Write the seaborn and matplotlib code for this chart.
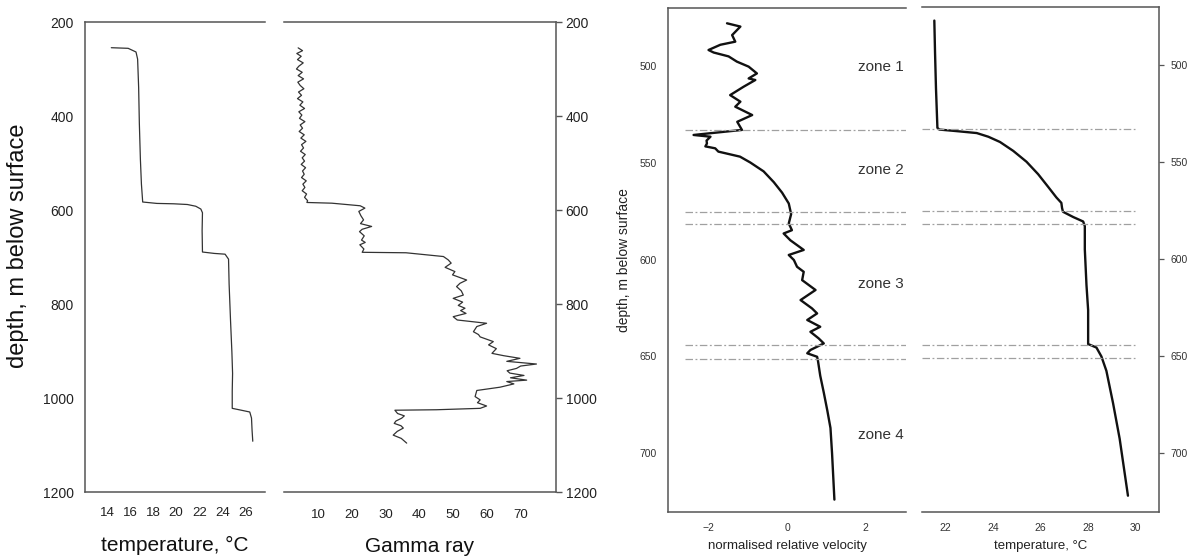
import matplotlib
matplotlib.use("Agg")
import matplotlib.pyplot as plt
import seaborn as sns
import pandas as pd

# ---------------- data ----------------
# Left figure: temperature log (degC) vs depth (m)
temp_depth = [254.7, 256, 263.8, 279, 339.8, 415.8, 491.8, 545, 583, 586, 586.8, 588.3,
              592, 598, 605.8, 643.8, 689.4, 692.4, 694, 704.6, 757.8, 795.7, 833.7, 902,
              947.7, 985.7, 1022, 1026, 1029.8, 1042.7, 1069, 1092]
temp_value = [14.38, 15.84, 16.52, 16.66, 16.75, 16.81, 16.90, 16.99, 17.10, 18.33, 19.79, 20.97,
              21.70, 22.14, 22.28, 22.25, 22.28, 23.31, 24.24, 24.54, 24.59, 24.65, 24.71, 24.83,
              24.89, 24.86, 24.86, 25.65, 26.38, 26.53, 26.58, 26.64]

# Left figure: gamma ray log vs depth (m)
gamma_depth = [255, 261, 267, 273, 280, 287, 294, 300, 307, 314, 321, 328, 335, 342, 349, 356,
               363, 370, 377, 384, 391, 398, 405, 412, 419, 426, 433, 440, 447, 454, 461, 468,
               475, 482, 489, 496, 503, 510, 517, 524, 531, 538, 545, 552, 559, 566, 573, 580,
               584, 585.5, 591, 596, 603, 612, 621, 629, 635, 641, 646, 655, 664, 669, 674, 683,
               690, 691, 699, 706, 713, 722, 731, 738, 745, 749, 756, 763, 772, 781, 788, 796,
               803, 809, 814, 820, 827, 834, 841, 848, 859, 865, 870, 880, 887, 895, 905, 910,
               915.6, 922, 927.7, 932, 937, 942, 947, 952, 957, 962, 965, 970, 977, 984, 997,
               1004, 1010, 1017, 1022, 1025, 1026, 1033, 1038, 1043, 1049, 1054, 1059, 1064,
               1071, 1079, 1086, 1096]
gamma_value = [4.0, 5.3, 3.6, 4.9, 3.8, 5.5, 4.2, 3.5, 5.2, 4.0, 5.6, 3.9, 4.6, 5.7, 4.1, 5.0,
               3.8, 5.4, 4.5, 5.9, 4.2, 5.1, 4.4, 6.0, 4.6, 5.3, 4.3, 5.8, 4.8, 6.3, 5.0, 5.6,
               4.7, 6.1, 5.2, 5.9, 4.9, 6.2, 5.3, 5.8, 5.0, 6.4, 5.4, 6.0, 5.2, 6.5, 5.9, 6.8,
               6.6, 14.0, 22.4, 23.8, 22.0, 22.6, 23.4, 22.5, 25.8, 23.0, 22.2, 23.6, 22.8, 23.9,
               22.3, 23.5, 23.0, 36.0, 47.1, 48.5, 49.4, 47.6, 50.5, 49.8, 52.5, 54.0, 52.0, 51.0,
               52.4, 53.0, 50.0, 52.8, 51.5, 53.5, 52.2, 53.8, 50.0, 51.2, 59.9, 57.0, 56.0, 57.5,
               58.0, 61.9, 60.5, 62.8, 61.5, 65.0, 69.8, 65.9, 74.7, 70.0, 68.8, 66.0, 66.8, 71.0,
               67.0, 71.8, 65.9, 68.0, 63.9, 57.0, 56.5, 58.0, 57.2, 59.9, 58.0, 45.0, 32.7, 33.5,
               35.5, 34.7, 33.0, 32.5, 34.5, 35.2, 33.4, 32.2, 34.6, 36.2]

# Right figure: normalised relative velocity vs depth (m)
vel_depth = [477.9, 479.6, 484, 487.4, 489, 491.7, 493, 495, 497.7, 500.3, 503.8, 506.4, 507.2,
             510.7, 515, 518.4, 521, 525.3, 528.8, 533, 535.6, 536.5, 538.5, 540, 541.5, 542.5,
             544.2, 546.8, 549.8, 554.4, 560, 565.4, 571, 576.5, 581.3, 584.8, 586.5, 590, 595,
             597.6, 600.2, 603.7, 606.3, 610.6, 615.7, 620.9, 625.2, 627.8, 631.2, 634.7, 637.3,
             640.7, 643.3, 646.7, 648.4, 650.2, 652, 660, 668.7, 678, 687, 700, 712, 724]
vel_value = [-1.53, -1.19, -1.40, -1.32, -1.70, -2.00, -1.87, -1.49, -1.28, -0.98, -0.77, -0.98,
             -0.81, -1.11, -1.45, -1.19, -1.32, -0.89, -1.27, -1.15, -2.38, -1.95, -2.05, -2.04,
             -2.08, -1.83, -1.75, -1.20, -0.94, -0.60, -0.34, -0.13, 0.04, 0.10, 0.04, 0.12,
             -0.09, 0.08, 0.42, 0.04, 0.17, 0.25, 0.42, 0.38, 0.72, 0.34, 0.63, 0.76, 0.51, 0.84,
             0.59, 0.80, 0.93, 0.59, 0.51, 0.76, 0.78, 0.84, 0.93, 1.02, 1.10, 1.14, 1.17, 1.20]

# Right figure: temperature vs depth (m)
t2_depth = [477, 493.5, 512, 532.3, 533.2, 534, 535, 536.9, 539.6, 544.2, 549.8, 556.2, 562.7,
            568.2, 571, 573.7, 575.6, 578.3, 580.6, 583, 595, 613.4, 626.3, 643.8, 645.6, 650.2,
            657.6, 674.2, 692.6, 722]
t2_value = [21.52, 21.55, 21.59, 21.65, 21.73, 22.46, 23.31, 23.80, 24.29, 24.85, 25.41, 25.90,
            26.32, 26.67, 26.88, 26.91, 26.95, 27.38, 27.80, 27.87, 27.87, 27.94, 28.01, 28.01,
            28.36, 28.57, 28.78, 29.06, 29.34, 29.69]

# Zone boundaries (m) and zone labels
boundary_depths = [532.8, 575.2, 581.7, 644.3, 651.2]
zone_labels = ["zone 1", "zone 2", "zone 3", "zone 4"]
zone_depths = [500.5, 553.5, 612.4, 690.8]

left_yticks = [200, 400, 600, 800, 1000, 1200]
temp_xticks = [14, 16, 18, 20, 22, 24, 26]
gamma_xticks = [10, 20, 30, 40, 50, 60, 70]
right_yticks = [500, 550, 600, 650, 700]
vel_xticks = [-2, 0, 2]
t2_xticks = [22, 24, 26, 28, 30]

# ---------------- style ----------------
sns.set_theme(style="white")
plt.rcParams["font.family"] = ["Liberation Sans", "DejaVu Sans"]

W, H = 1196, 558
fig = plt.figure(figsize=(W / 100, H / 100), dpi=100)


def add_ax(x0, x1, y0, y1):
    return fig.add_axes([x0 / W, 1 - y1 / H, (x1 - x0) / W, (y1 - y0) / H])


SP = "#555555"

ax1 = add_ax(85, 265, 22, 492)
ax2 = add_ax(284, 556, 22, 492)
ax3 = add_ax(668, 906, 8, 512)
ax4 = add_ax(922, 1159, 7, 512)

df_t = pd.DataFrame({"T": temp_value, "d": temp_depth})
df_g = pd.DataFrame({"G": gamma_value, "d": gamma_depth})
df_v = pd.DataFrame({"V": vel_value, "d": vel_depth})
df_t2 = pd.DataFrame({"T": t2_value, "d": t2_depth})

sns.lineplot(data=df_t, x="T", y="d", sort=False, estimator=None, ax=ax1, color="#333333", lw=0.9)
sns.lineplot(data=df_g, x="G", y="d", sort=False, estimator=None, ax=ax2, color="#333333", lw=0.9)
sns.lineplot(data=df_v, x="V", y="d", sort=False, estimator=None, ax=ax3, color="#111111", lw=1.7)
sns.lineplot(data=df_t2, x="T", y="d", sort=False, estimator=None, ax=ax4, color="#111111", lw=1.7)

# limits
ax1.set_xlim(12.1, 27.7)
ax2.set_xlim(-0.2, 80.5)
for a in (ax1, ax2):
    a.set_ylim(1200, 200)
ax3.set_xlim(-3.03, 3.02)
ax4.set_xlim(21.0, 31.0)
for a in (ax3, ax4):
    a.set_ylim(730.4, 470)

# spines
for a, hide in ((ax1, "right"), (ax2, "left"), (ax3, "right"), (ax4, "left")):
    for s in a.spines.values():
        s.set_color(SP)
        s.set_linewidth(1.1)
    a.spines[hide].set_visible(False)

# ticks
ax1.set_xticks(temp_xticks)
ax1.set_yticks(left_yticks)
ax2.set_xticks(gamma_xticks)
ax2.set_yticks(left_yticks)
ax2.yaxis.tick_right()
ax1.tick_params(axis="both", direction="out", length=5, width=1, color=SP, labelcolor="#222222")
ax1.tick_params(axis="x", labelsize=9.5, pad=6)
ax1.tick_params(axis="y", labelsize=10, pad=3)
ax2.tick_params(axis="both", direction="out", length=4, width=1, color=SP, labelcolor="#222222")
ax2.tick_params(axis="x", labelsize=9.5, pad=8)
ax2.tick_params(axis="y", labelsize=10, pad=3, left=False, right=True)

ax3.set_xticks(vel_xticks)
ax3.set_yticks(right_yticks)
ax4.set_xticks(t2_xticks)
ax4.set_yticks(right_yticks)
ax4.yaxis.tick_right()
for a in (ax3, ax4):
    a.tick_params(axis="both", direction="out", length=3.5, width=0.9, color=SP,
                  labelcolor="#333333", labelsize=7.5, pad=4.5)
ax4.tick_params(axis="y", left=False, right=True)

for a in (ax1, ax2, ax3, ax4):
    a.set_xlabel("")
    a.set_ylabel("")
    a.grid(False)

ax1.set_xlabel("temperature, °C", fontsize=15, labelpad=12, color="#111111")
ax2.set_xlabel("Gamma ray", fontsize=15, labelpad=12, color="#111111")
ax1.set_ylabel("depth, m below surface", fontsize=17, color="#111111")
ax1.yaxis.set_label_coords(-0.31, 0.525)
ax3.set_xlabel("normalised relative velocity", fontsize=9.5, labelpad=5, color="#222222")
ax4.set_xlabel("temperature, °C", fontsize=9.5, labelpad=5, color="#222222")
ax3.set_ylabel("depth, m below surface", fontsize=10, color="#222222")
ax3.yaxis.set_label_coords(-0.155, 0.5)

# zone boundary lines
ax3.hlines(boundary_depths, -2.6, 3.02, colors="#a0a0a0", lw=0.9, linestyles=(0, (6, 2, 1.5, 2)))
ax4.hlines(boundary_depths, 21.0, 29.97, colors="#a0a0a0", lw=0.9, linestyles=(0, (6, 2, 1.5, 2)))

for lab, d in zip(zone_labels, zone_depths):
    ax3.text(2.37, d, lab, ha="center", va="center", fontsize=11, color="#333333", clip_on=False)

fig.savefig("out.png", dpi=100, facecolor="white")
